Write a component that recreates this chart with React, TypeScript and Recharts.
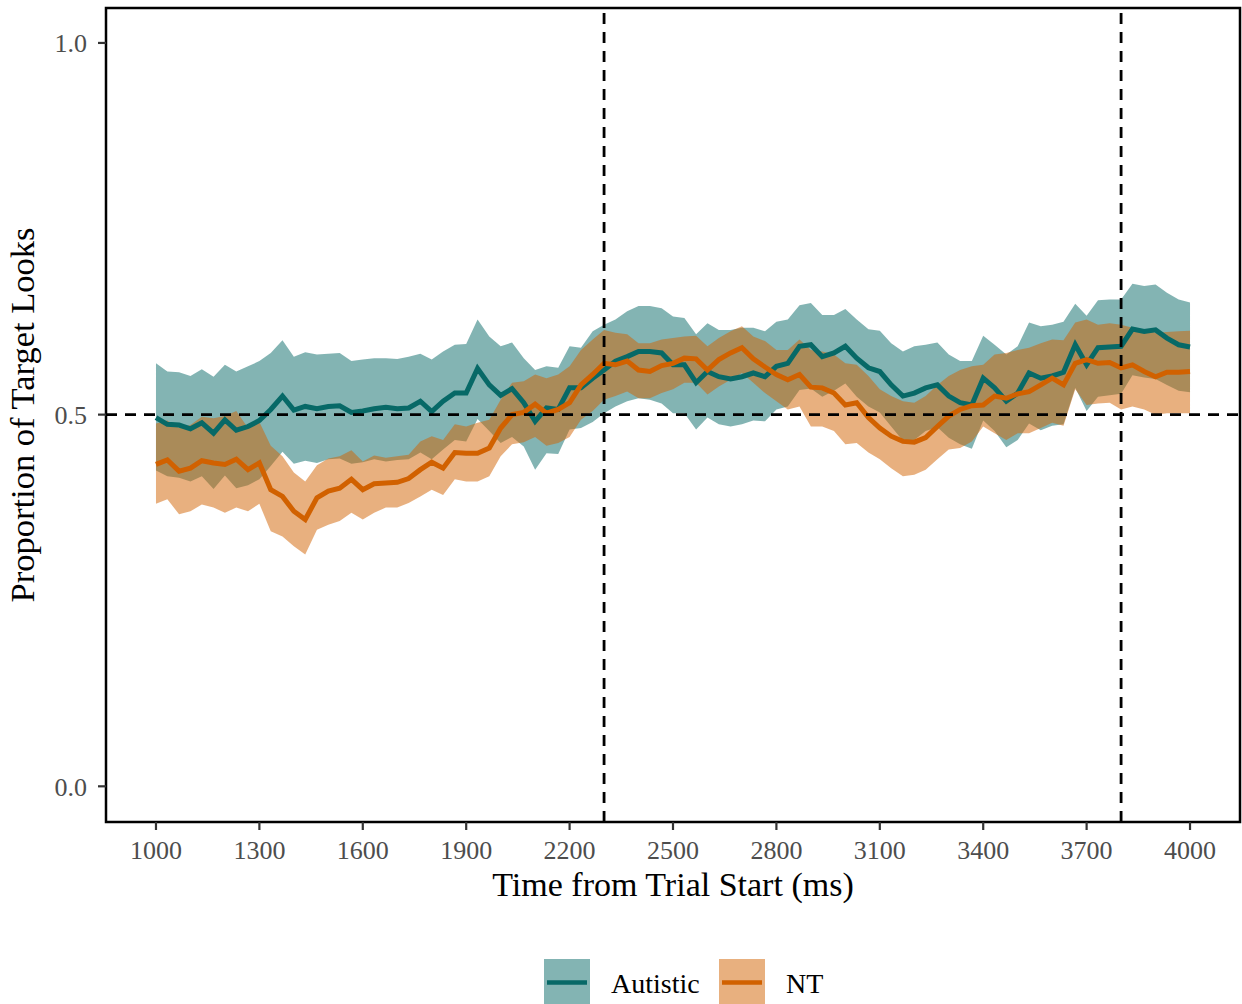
import React from 'react'
import {
  ComposedChart,
  Area,
  Line,
  XAxis,
  YAxis,
  ReferenceLine,
  ReferenceArea,
} from 'recharts'

// time bins (ms from trial start)
const times = [
  1000, 1033, 1067, 1100, 1133, 1167, 1200, 1233, 1267, 1300,
  1333, 1367, 1400, 1433, 1467, 1500, 1533, 1567, 1600, 1633,
  1667, 1700, 1733, 1767, 1800, 1833, 1867, 1900, 1933, 1967,
  2000, 2033, 2067, 2100, 2133, 2167, 2200, 2233, 2267, 2300,
  2333, 2367, 2400, 2433, 2467, 2500, 2533, 2567, 2600, 2633,
  2667, 2700, 2733, 2767, 2800, 2833, 2867, 2900, 2933, 2967,
  3000, 3033, 3067, 3100, 3133, 3167, 3200, 3233, 3267, 3300,
  3333, 3367, 3400, 3433, 3467, 3500, 3533, 3567, 3600, 3633,
  3667, 3700, 3733, 3767, 3800, 3833, 3867, 3900, 3933, 3967,
  4000,
]

const autisticMean = [
  0.496, 0.487, 0.486, 0.481, 0.489, 0.475, 0.493, 0.479, 0.484, 0.492,
  0.507, 0.525, 0.506, 0.511, 0.508, 0.511, 0.512, 0.503, 0.505, 0.508,
  0.510, 0.508, 0.509, 0.518, 0.504, 0.518, 0.529, 0.529, 0.562, 0.540,
  0.526, 0.535, 0.516, 0.491, 0.509, 0.507, 0.536, 0.536, 0.549, 0.560,
  0.572, 0.578, 0.585, 0.585, 0.583, 0.567, 0.567, 0.543, 0.558, 0.551,
  0.548, 0.551, 0.556, 0.551, 0.565, 0.569, 0.592, 0.594, 0.578, 0.583,
  0.592, 0.576, 0.563, 0.558, 0.540, 0.525, 0.529, 0.536, 0.540, 0.525,
  0.516, 0.513, 0.549, 0.536, 0.518, 0.529, 0.556, 0.549, 0.552, 0.557,
  0.594, 0.567, 0.590, 0.591, 0.592, 0.615, 0.612, 0.614, 0.603, 0.594,
  0.591,
]

const autisticHigh = [
  0.569, 0.558, 0.557, 0.552, 0.561, 0.551, 0.567, 0.558, 0.565, 0.572,
  0.583, 0.600, 0.578, 0.584, 0.581, 0.582, 0.583, 0.572, 0.574, 0.576,
  0.576, 0.575, 0.578, 0.582, 0.574, 0.585, 0.594, 0.595, 0.628, 0.605,
  0.592, 0.597, 0.576, 0.560, 0.565, 0.563, 0.592, 0.590, 0.612, 0.621,
  0.628, 0.639, 0.646, 0.646, 0.643, 0.632, 0.630, 0.608, 0.623, 0.614,
  0.614, 0.617, 0.617, 0.612, 0.625, 0.628, 0.647, 0.650, 0.634, 0.634,
  0.642, 0.628, 0.615, 0.613, 0.596, 0.585, 0.592, 0.594, 0.597, 0.581,
  0.572, 0.572, 0.606, 0.594, 0.581, 0.592, 0.624, 0.619, 0.621, 0.625,
  0.649, 0.633, 0.654, 0.655, 0.655, 0.676, 0.673, 0.675, 0.664, 0.655,
  0.651,
]

const autisticLow = [
  0.425, 0.417, 0.415, 0.410, 0.417, 0.400, 0.418, 0.401, 0.405, 0.413,
  0.431, 0.450, 0.434, 0.438, 0.435, 0.440, 0.441, 0.434, 0.436, 0.440,
  0.437, 0.439, 0.440, 0.449, 0.440, 0.453, 0.466, 0.464, 0.494, 0.478,
  0.462, 0.470, 0.457, 0.426, 0.448, 0.447, 0.480, 0.482, 0.490, 0.502,
  0.511, 0.518, 0.522, 0.520, 0.515, 0.502, 0.502, 0.480, 0.496, 0.487,
  0.484, 0.487, 0.492, 0.491, 0.507, 0.511, 0.533, 0.535, 0.524, 0.532,
  0.542, 0.524, 0.511, 0.503, 0.484, 0.465, 0.466, 0.478, 0.483, 0.469,
  0.460, 0.454, 0.492, 0.478, 0.456, 0.466, 0.488, 0.479, 0.485, 0.487,
  0.536, 0.505, 0.524, 0.526, 0.528, 0.553, 0.550, 0.548, 0.540, 0.532,
  0.530,
]

const ntMean = [
  0.433, 0.439, 0.424, 0.428, 0.438, 0.435, 0.433, 0.440, 0.426, 0.435,
  0.399, 0.390, 0.370, 0.359, 0.388, 0.397, 0.401, 0.413, 0.399, 0.407,
  0.408, 0.409, 0.414, 0.426, 0.436, 0.428, 0.449, 0.448, 0.448, 0.455,
  0.482, 0.500, 0.503, 0.514, 0.502, 0.507, 0.516, 0.540, 0.554, 0.569,
  0.567, 0.572, 0.560, 0.558, 0.566, 0.569, 0.576, 0.575, 0.560, 0.574,
  0.583, 0.590, 0.575, 0.564, 0.554, 0.547, 0.554, 0.537, 0.536, 0.529,
  0.513, 0.516, 0.496, 0.482, 0.471, 0.464, 0.463, 0.469, 0.484, 0.498,
  0.507, 0.512, 0.513, 0.525, 0.522, 0.528, 0.531, 0.540, 0.549, 0.540,
  0.569, 0.574, 0.569, 0.570, 0.563, 0.567, 0.558, 0.551, 0.557, 0.557,
  0.558,
]

const ntHigh = [
  0.488, 0.492, 0.482, 0.486, 0.497, 0.495, 0.498, 0.505, 0.482, 0.490,
  0.458, 0.444, 0.422, 0.410, 0.432, 0.441, 0.444, 0.452, 0.437, 0.445,
  0.442, 0.444, 0.446, 0.464, 0.471, 0.466, 0.487, 0.484, 0.489, 0.493,
  0.520, 0.543, 0.545, 0.554, 0.549, 0.554, 0.565, 0.587, 0.601, 0.614,
  0.610, 0.608, 0.596, 0.596, 0.601, 0.603, 0.605, 0.606, 0.592, 0.603,
  0.612, 0.619, 0.605, 0.599, 0.587, 0.587, 0.601, 0.587, 0.585, 0.581,
  0.569, 0.567, 0.552, 0.534, 0.525, 0.518, 0.516, 0.525, 0.540, 0.552,
  0.560, 0.565, 0.567, 0.581, 0.583, 0.587, 0.590, 0.596, 0.601, 0.600,
  0.624, 0.628, 0.621, 0.623, 0.621, 0.617, 0.614, 0.610, 0.611, 0.612,
  0.613,
]

const ntLow = [
  0.380, 0.386, 0.366, 0.370, 0.379, 0.375, 0.368, 0.375, 0.370, 0.380,
  0.343, 0.336, 0.323, 0.312, 0.345, 0.352, 0.357, 0.368, 0.359, 0.368,
  0.375, 0.375, 0.381, 0.390, 0.399, 0.392, 0.413, 0.410, 0.410, 0.417,
  0.444, 0.460, 0.463, 0.470, 0.458, 0.462, 0.470, 0.493, 0.505, 0.520,
  0.525, 0.531, 0.522, 0.522, 0.529, 0.534, 0.543, 0.543, 0.527, 0.538,
  0.547, 0.556, 0.543, 0.529, 0.518, 0.507, 0.511, 0.484, 0.484, 0.478,
  0.460, 0.462, 0.449, 0.440, 0.428, 0.417, 0.419, 0.426, 0.440, 0.453,
  0.455, 0.464, 0.484, 0.475, 0.466, 0.475, 0.475, 0.482, 0.489, 0.485,
  0.534, 0.513, 0.515, 0.516, 0.507, 0.511, 0.507, 0.500, 0.502, 0.502,
  0.502,
]

const xTicks = [1000, 1300, 1600, 1900, 2200, 2500, 2800, 3100, 3400, 3700, 4000]
const yTicks = [0, 0.5, 1]
const phaseMarks = [2300, 3800]
const chanceLevel = 0.5

const TEAL = '#076967'
const ORANGE = '#d16100'
const FONT = '"Liberation Serif", "Times New Roman", serif'

const XMIN = 855
const XMAX = 4145
const YMIN = -0.048
const YMAX = 1.047

const data = times.map((t, i) => ({
  t,
  autistic: autisticMean[i],
  autisticBand: [autisticLow[i], autisticHigh[i]],
  nt: ntMean[i],
  ntBand: [ntLow[i], ntHigh[i]],
}))

const XTitle = ({ viewBox }: any) => (
  <text
    x={viewBox.x + viewBox.width / 2}
    y={896}
    textAnchor="middle"
    fontFamily={FONT}
    fontSize={34}
    fill="#000"
  >
    Time from Trial Start (ms)
  </text>
)

const YTitle = ({ viewBox }: any) => {
  const cy = viewBox.y + viewBox.height / 2
  return (
    <text
      x={34}
      y={cy}
      transform={`rotate(-90, 34, ${cy})`}
      textAnchor="middle"
      fontFamily={FONT}
      fontSize={34.5}
      fill="#000"
    >
      Proportion of Target Looks
    </text>
  )
}

function LegendKey({ x, color, label }: { x: number; color: string; label: string }) {
  return (
    <g>
      <rect x={x} y={959} width={46} height={46} fill={color} fillOpacity={0.5} />
      <line x1={x + 3} x2={x + 43} y1={982.5} y2={982.5} stroke={color} strokeWidth={4.5} />
      <text x={x + 67} y={993} fontFamily={FONT} fontSize={28} fill="#000">
        {label}
      </text>
    </g>
  )
}

export default function App() {
  return (
    <div style={{ position: 'absolute', left: 0, top: 0, width: 1242, height: 1004, background: '#fff' }}>
      <ComposedChart
        width={1242}
        height={1004}
        data={data}
        margin={{ top: 8, right: 2, left: 40, bottom: 107 }}
      >
        <XAxis
          dataKey="t"
          type="number"
          domain={[XMIN, XMAX]}
          allowDataOverflow
          ticks={xTicks}
          height={75}
          axisLine={false}
          tickSize={8}
          tickMargin={10.5}
          tickLine={{ stroke: '#333', strokeWidth: 2.2 }}
          tick={{ fontFamily: FONT, fontSize: 26, fill: '#4d4d4d' }}
          label={<XTitle />}
        />
        <YAxis
          type="number"
          domain={[YMIN, YMAX]}
          allowDataOverflow
          ticks={yTicks}
          width={66}
          axisLine={false}
          tickSize={8}
          tickMargin={11}
          tickLine={{ stroke: '#333', strokeWidth: 2.2 }}
          tick={{ fontFamily: FONT, fontSize: 26, fill: '#4d4d4d' }}
          tickFormatter={(v: number) => v.toFixed(1)}
          label={<YTitle />}
        />
        <Area
          type="linear"
          dataKey="autisticBand"
          stroke="none"
          fill={TEAL}
          fillOpacity={0.5}
          isAnimationActive={false}
        />
        <Area
          type="linear"
          dataKey="ntBand"
          stroke="none"
          fill={ORANGE}
          fillOpacity={0.5}
          isAnimationActive={false}
        />
        <Line
          type="linear"
          dataKey="autistic"
          stroke={TEAL}
          strokeWidth={5}
          dot={false}
          isAnimationActive={false}
        />
        <Line
          type="linear"
          dataKey="nt"
          stroke={ORANGE}
          strokeWidth={5}
          dot={false}
          isAnimationActive={false}
        />
        <ReferenceLine y={chanceLevel} stroke="#000" strokeWidth={2.8} strokeDasharray="11 8" />
        {phaseMarks.map((x) => (
          <ReferenceLine key={x} x={x} stroke="#000" strokeWidth={2.8} strokeDasharray="11 8" />
        ))}
        <ReferenceArea
          x1={XMIN}
          x2={XMAX}
          y1={YMIN}
          y2={YMAX}
          fill="none"
          stroke="#000"
          strokeWidth={2.5}
        />
      </ComposedChart>
      <svg
        width={1242}
        height={1004}
        style={{ position: 'absolute', left: 0, top: 0, pointerEvents: 'none' }}
      >
        <LegendKey x={544} color={TEAL} label="Autistic" />
        <LegendKey x={719} color={ORANGE} label="NT" />
      </svg>
    </div>
  )
}
